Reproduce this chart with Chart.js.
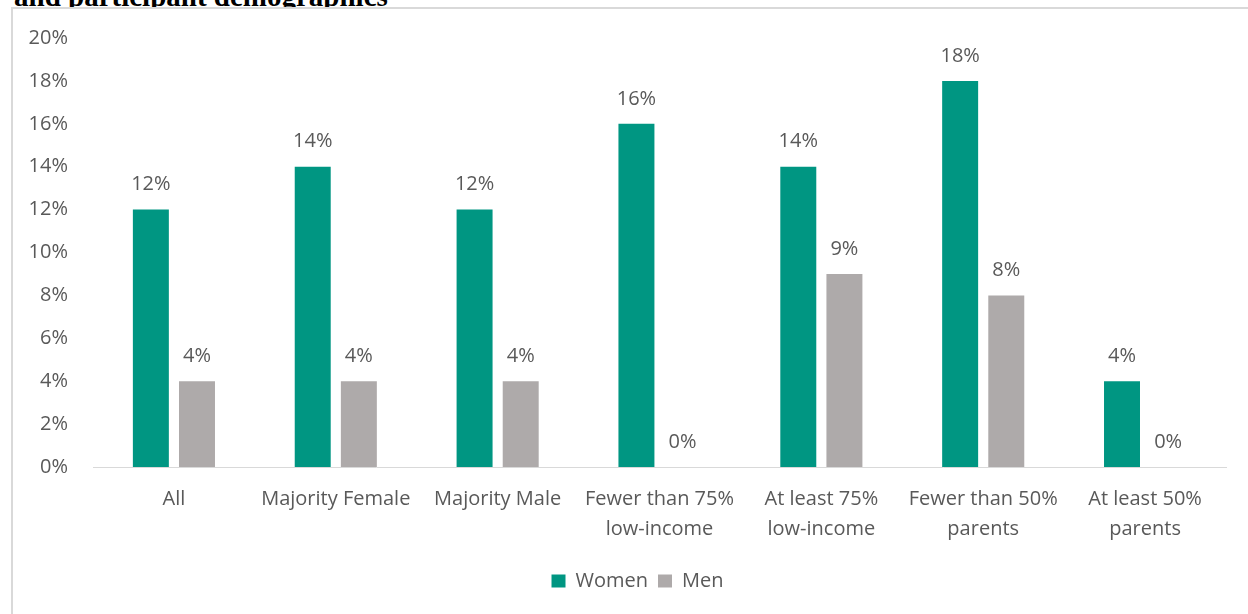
<!DOCTYPE html>
<html>
<head>
<meta charset="utf-8">
<script src="https://cdn.jsdelivr.net/npm/chart.js@4.4.0/dist/chart.umd.min.js"></script>
<style>
  html,body{margin:0;padding:0;background:#fff;overflow:hidden}
  body{width:1248px;height:614px;position:relative}
  #title{position:absolute;left:14px;top:-18px;font:bold 29px/29px "Liberation Serif","DejaVu Serif",serif;color:#000;white-space:nowrap}
  #box{position:absolute;left:11px;top:7px;width:1237px;height:607px;border-left:2px solid #d9d9d9;border-top:2px solid #d9d9d9;background:#fff}
  canvas{display:block}
</style>
</head>
<body>
<div id="title">and participant demographics</div>
<div id="box"><canvas id="c" width="1235" height="605"></canvas></div>
<script>
  // --- data ---
  const categories = [
    'All',
    'Majority Female',
    'Majority Male',
    ['Fewer than 75%','low-income'],
    ['At least 75%','low-income'],
    ['Fewer than 50%','parents'],
    ['At least 50%','parents']
  ];
  const women = [12, 14, 12, 16, 14, 18, 4];
  const men = [4, 4, 4, 0, 9, 8, 0];
  const yTicks = [0, 2, 4, 6, 8, 10, 12, 14, 16, 18, 20];

  const FONT = '"Open Sans", Lato, sans-serif';
  const FS = 20;
  const TXT = '#595959';

  // value labels above each bar
  const barLabels = {
    id:'barLabels',
    afterDatasetsDraw(chart){
      const ctx = chart.ctx;
      ctx.save();
      ctx.font = FS + 'px ' + FONT;
      ctx.fillStyle = TXT;
      ctx.textAlign = 'center';
      ctx.textBaseline = 'middle';
      chart.data.datasets.forEach((ds,i)=>{
        chart.getDatasetMeta(i).data.forEach((bar,j)=>{
          ctx.fillText(ds.data[j] + '%', bar.x, bar.y - 25);
        });
      });
      ctx.restore();
    }
  };

  // legend sits a bit right of the canvas centre in the original
  const legendShift = {
    id:'legendShift',
    afterLayout(chart){
      if(chart.legend){ chart.legend.left += 18; chart.legend.right += 18; }
    }
  };

  new Chart(document.getElementById('c'), {
    type:'bar',
    data:{
      labels:categories,
      datasets:[
        {label:'Women', data:women, backgroundColor:'#009682'},
        {label:'Men', data:men, backgroundColor:'#aeaaaa'}
      ]
    },
    options:{
      responsive:false,
      animation:false,
      layout:{padding:{left:0, right:22, top:29, bottom:13}},
      datasets:{bar:{categoryPercentage:0.57, barPercentage:0.78}},
      plugins:{
        legend:{
          position:'bottom',
          labels:{font:{family:FONT, size:FS}, color:TXT, boxWidth:14, boxHeight:13, padding:10}
        },
        tooltip:{enabled:false}
      },
      scales:{
        x:{
          grid:{display:false, drawTicks:false},
          border:{color:'#d9d9d9', width:1},
          ticks:{font:{family:FONT, size:FS, lineHeight:1.5}, color:TXT, padding:17, maxRotation:0, autoSkip:false}
        },
        y:{
          min:yTicks[0], max:yTicks[yTicks.length-1],
          afterBuildTicks(axis){ axis.ticks = yTicks.map(v=>({value:v})); },
          afterFit(axis){ axis.width = 80; axis.paddingTop = 0; axis.paddingBottom = 0; },
          grid:{display:false, drawTicks:false},
          border:{display:false},
          ticks:{font:{family:FONT, size:FS}, color:TXT, padding:25, callback:v=>v+'%'}
        }
      }
    },
    plugins:[barLabels, legendShift]
  });
</script>
</body>
</html>
